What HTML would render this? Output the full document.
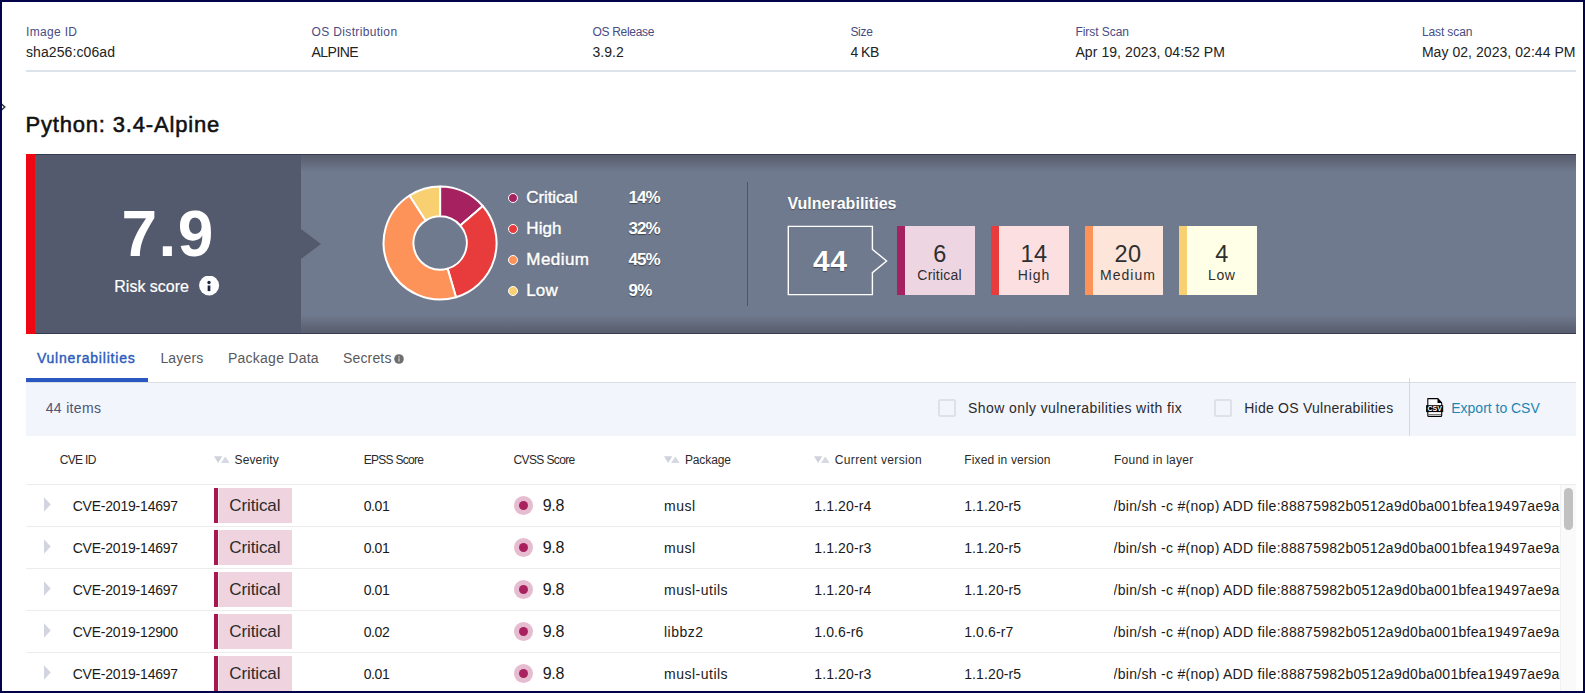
<!DOCTYPE html>
<html lang="en"><head><meta charset="utf-8"><title>Python: 3.4-Alpine</title>
<style>
html,body{margin:0;padding:0;background:#fff;}
body{width:1585px;height:693px;overflow:hidden;position:relative;font-family:"Liberation Sans",sans-serif;}
.t{position:absolute;white-space:pre;line-height:1;display:block;}
.r{position:absolute;display:block;}
</style></head><body>
<span class="t" style="left:26px;top:25.84px;font-size:12px;color:#494c82;letter-spacing:0.33px;">Image ID</span>
<span class="t" style="left:26px;top:45.15px;font-size:14px;color:#222;letter-spacing:0.09px;">sha256:c06ad</span>
<span class="t" style="left:311.6px;top:25.84px;font-size:12px;color:#494c82;letter-spacing:0.34px;">OS Distribution</span>
<span class="t" style="left:311.6px;top:45.15px;font-size:14px;color:#222;letter-spacing:-0.56px;">ALPINE</span>
<span class="t" style="left:592.4px;top:25.84px;font-size:12px;color:#494c82;letter-spacing:-0.3px;">OS Release</span>
<span class="t" style="left:592.4px;top:45.15px;font-size:14px;color:#222;letter-spacing:0.04px;">3.9.2</span>
<span class="t" style="left:850.4px;top:25.84px;font-size:12px;color:#494c82;letter-spacing:-0.28px;">Size</span>
<span class="t" style="left:850.4px;top:45.15px;font-size:14px;color:#222;letter-spacing:-0.5px;">4 KB</span>
<span class="t" style="left:1075.4px;top:25.84px;font-size:12px;color:#494c82;letter-spacing:-0.05px;">First Scan</span>
<span class="t" style="left:1075.4px;top:45.15px;font-size:14px;color:#222;letter-spacing:0.08px;">Apr 19, 2023, 04:52 PM</span>
<span class="t" style="left:1421.9px;top:25.84px;font-size:12px;color:#494c82;letter-spacing:-0.11px;">Last scan</span>
<span class="t" style="left:1421.9px;top:45.15px;font-size:14px;color:#222;letter-spacing:0.05px;">May 02, 2023, 02:44 PM</span>
<div class="r" style="left:26px;top:70px;width:1550px;height:2px;background:#dde3ea;"></div>
<svg class="r" style="left:0;top:101px" width="8" height="12" viewBox="0 0 8 12"><path d="M1 2.5 L4.8 6 L1 9.5" fill="none" stroke="#22303f" stroke-width="1.4"/></svg>
<span class="t" style="left:25.4px;top:114.08px;font-size:22px;color:#111;letter-spacing:0.83px;-webkit-text-stroke:0.55px #111;">Python: 3.4-Alpine</span>
<div class="r" style="left:26px;top:154px;width:1550px;height:180px;background:#707a8e;background:linear-gradient(to bottom,#343a4f 0,#343a4f 1px,#595f70 1px,#5b6172 4px,#707a8e 18px,#707a8e 161px,#5b6172 176px,#595f70 179px,#343a4f 179px,#343a4f 180px);"></div>
<div class="r" style="left:35px;top:154px;width:266px;height:180px;background:#545a6e;border-top:1px solid #343a4f;border-bottom:1px solid #343a4f;box-sizing:border-box;"></div>
<div class="r" style="left:26px;top:154px;width:9px;height:180px;background:#ee0612;"></div>
<svg class="r" style="left:301px;top:228px" width="21" height="32" viewBox="0 0 21 32"><path d="M0 1 L20 16 L0 31 Z" fill="#545a6e"/></svg>
<span class="t" style="left:68.15px;width:200px;text-align:center;top:202.12px;font-size:64px;color:#fff;font-weight:700;letter-spacing:1.5px;">7.9</span>
<span class="t" style="left:114.3px;top:279.46px;font-size:16px;color:#fff;-webkit-text-stroke:0.2px #fff;">Risk score</span>
<svg class="r" style="left:199px;top:276px" width="21" height="20" viewBox="0 0 21 20"><circle cx="10.1" cy="9.5" r="10" fill="#fff"/><circle cx="10" cy="6.5" r="1.65" fill="#1f2540"/><rect x="8.65" y="9.5" width="2.7" height="5.6" fill="#1f2540"/></svg>
<svg class="r" style="left:0;top:0" width="700" height="340" viewBox="0 0 700 340"><path d="M440.10 186.50 A56.5 56.5 0 0 1 482.80 206.00 L460.28 225.52 A26.7 26.7 0 0 0 440.10 216.30 Z" fill="#a5215f" stroke="#fff" stroke-width="2" stroke-linejoin="round"/><path d="M482.80 206.00 A56.5 56.5 0 0 1 456.02 297.21 L447.62 268.62 A26.7 26.7 0 0 0 460.28 225.52 Z" fill="#e83b3c" stroke="#fff" stroke-width="2" stroke-linejoin="round"/><path d="M456.02 297.21 A56.5 56.5 0 0 1 409.55 195.47 L425.66 220.54 A26.7 26.7 0 0 0 447.62 268.62 Z" fill="#fd9359" stroke="#fff" stroke-width="2" stroke-linejoin="round"/><path d="M409.55 195.47 A56.5 56.5 0 0 1 440.10 186.50 L440.10 216.30 A26.7 26.7 0 0 0 425.66 220.54 Z" fill="#f9d071" stroke="#fff" stroke-width="2" stroke-linejoin="round"/></svg>
<div class="r" style="left:507.7px;top:192.5px;width:8px;height:8px;border-radius:50%;background:#a5215f;border:1.2px solid #fff"></div>
<span class="t" style="left:526.3px;top:188.81px;font-size:17px;color:#fff;letter-spacing:-0.12px;-webkit-text-stroke:0.45px #fff;text-shadow:0 1px 1px rgba(0,0,0,.4);">Critical</span>
<span class="t" style="left:628.5px;top:188.81px;font-size:17px;color:#fff;font-weight:700;letter-spacing:-0.9700000000000001px;text-shadow:0 1px 1px rgba(0,0,0,.45);">14%</span>
<div class="r" style="left:507.7px;top:223.5px;width:8px;height:8px;border-radius:50%;background:#e83b3c;border:1.2px solid #fff"></div>
<span class="t" style="left:526.3px;top:219.81px;font-size:17px;color:#fff;letter-spacing:0.1px;-webkit-text-stroke:0.45px #fff;text-shadow:0 1px 1px rgba(0,0,0,.4);">High</span>
<span class="t" style="left:628.5px;top:219.81px;font-size:17px;color:#fff;font-weight:700;letter-spacing:-0.9700000000000001px;text-shadow:0 1px 1px rgba(0,0,0,.45);">32%</span>
<div class="r" style="left:507.7px;top:254.5px;width:8px;height:8px;border-radius:50%;background:#fd9359;border:1.2px solid #fff"></div>
<span class="t" style="left:526.3px;top:250.81px;font-size:17px;color:#fff;letter-spacing:0.44999999999999996px;-webkit-text-stroke:0.45px #fff;text-shadow:0 1px 1px rgba(0,0,0,.4);">Medium</span>
<span class="t" style="left:628.5px;top:250.81px;font-size:17px;color:#fff;font-weight:700;letter-spacing:-0.9700000000000001px;text-shadow:0 1px 1px rgba(0,0,0,.45);">45%</span>
<div class="r" style="left:507.7px;top:285.5px;width:8px;height:8px;border-radius:50%;background:#f9d071;border:1.2px solid #fff"></div>
<span class="t" style="left:526.3px;top:281.81px;font-size:17px;color:#fff;letter-spacing:0.1px;-webkit-text-stroke:0.45px #fff;text-shadow:0 1px 1px rgba(0,0,0,.4);">Low</span>
<span class="t" style="left:628.5px;top:281.81px;font-size:17px;color:#fff;font-weight:700;letter-spacing:-0.65px;text-shadow:0 1px 1px rgba(0,0,0,.45);">9%</span>
<div class="r" style="left:747px;top:182px;width:1px;height:124px;background:#4e5569;"></div>
<span class="t" style="left:787.4px;top:196.16px;font-size:16px;color:#fff;font-weight:700;letter-spacing:0.02px;text-shadow:0 1px 1px rgba(0,0,0,.35);">Vulnerabilities</span>
<svg class="r" style="left:786px;top:224px" width="104" height="74" viewBox="786 224 104 74"><path d="M788.3 226.4 H872.4 V249.3 L886.6 261 L872.4 272.7 V294.6 H788.3 Z" fill="none" stroke="#fff" stroke-width="1.4"/></svg>
<span class="t" style="left:730.31px;width:200px;text-align:center;top:246.41px;font-size:30px;color:#fff;font-weight:700;letter-spacing:0.62px;text-shadow:0 1px 1px rgba(0,0,0,.4);">44</span>
<div class="r" style="left:897px;top:226px;width:78.4px;height:69px;background:#eed5e2;"></div>
<div class="r" style="left:897px;top:226px;width:8px;height:69px;background:#a5215f;"></div>
<span class="t" style="left:839.90px;width:200px;text-align:center;top:243.11px;font-size:23.5px;color:#2f2f2f;letter-spacing:0.4px;">6</span>
<span class="t" style="left:839.61px;width:200px;text-align:center;top:268.15px;font-size:14px;color:#2f2f2f;letter-spacing:0.22px;">Critical</span>
<div class="r" style="left:991px;top:226px;width:78.4px;height:69px;background:#fcdfe0;"></div>
<div class="r" style="left:991px;top:226px;width:8px;height:69px;background:#e83b3c;"></div>
<span class="t" style="left:933.90px;width:200px;text-align:center;top:243.11px;font-size:23.5px;color:#2f2f2f;letter-spacing:0.4px;">14</span>
<span class="t" style="left:933.93px;width:200px;text-align:center;top:268.15px;font-size:14px;color:#2f2f2f;letter-spacing:0.87px;">High</span>
<div class="r" style="left:1085px;top:226px;width:78.4px;height:69px;background:#fee5da;"></div>
<div class="r" style="left:1085px;top:226px;width:8px;height:69px;background:#fd9359;"></div>
<span class="t" style="left:1027.90px;width:200px;text-align:center;top:243.11px;font-size:23.5px;color:#2f2f2f;letter-spacing:0.4px;">20</span>
<span class="t" style="left:1028.00px;width:200px;text-align:center;top:268.15px;font-size:14px;color:#2f2f2f;letter-spacing:1.0px;">Medium</span>
<div class="r" style="left:1179px;top:226px;width:78.4px;height:69px;background:#ffffe8;"></div>
<div class="r" style="left:1179px;top:226px;width:8px;height:69px;background:#f9d071;"></div>
<span class="t" style="left:1121.90px;width:200px;text-align:center;top:243.11px;font-size:23.5px;color:#2f2f2f;letter-spacing:0.4px;">4</span>
<span class="t" style="left:1121.80px;width:200px;text-align:center;top:268.15px;font-size:14px;color:#2f2f2f;letter-spacing:0.6px;">Low</span>
<span class="t" style="left:36.9px;top:350.95px;font-size:14px;color:#2b5bbd;letter-spacing:0.8px;-webkit-text-stroke:0.4px #2b5bbd;">Vulnerabilities</span>
<span class="t" style="left:160.4px;top:350.95px;font-size:14px;color:#59595d;letter-spacing:0.19px;">Layers</span>
<span class="t" style="left:228px;top:350.95px;font-size:14px;color:#59595d;letter-spacing:0.24px;">Package Data</span>
<span class="t" style="left:343.0px;top:350.95px;font-size:14px;color:#59595d;letter-spacing:0.16px;">Secrets</span>
<svg class="r" style="left:394px;top:354px" width="10" height="10" viewBox="0 0 10 10"><circle cx="5" cy="5" r="4.8" fill="#6e6e6e"/><circle cx="5" cy="2.9" r=".8" fill="#c4c4c4"/><rect x="4.3" y="4.3" width="1.4" height="3.3" fill="#c4c4c4"/></svg>
<div class="r" style="left:26px;top:382px;width:1550px;height:1px;background:#d9dde4;"></div>
<div class="r" style="left:26px;top:378px;width:122px;height:4px;background:#2a57c0;"></div>
<div class="r" style="left:26px;top:383px;width:1550px;height:53px;background:#f3f5fd;"></div>
<span class="t" style="left:45.7px;top:401.15px;font-size:14px;color:#4f5472;letter-spacing:0.34px;">44 items</span>
<div class="r" style="left:938px;top:399px;width:18px;height:18px;box-sizing:border-box;border:2px solid #dce2e6;border-radius:2.5px;background:#f3f5fd"></div>
<div class="r" style="left:1214px;top:399px;width:18px;height:18px;box-sizing:border-box;border:2px solid #dce2e6;border-radius:2.5px;background:#f3f5fd"></div>
<span class="t" style="left:968px;top:401.15px;font-size:14px;color:#2a2a2a;letter-spacing:0.42px;">Show only vulnerabilities with fix</span>
<span class="t" style="left:1244.2px;top:401.15px;font-size:14px;color:#2a2a2a;letter-spacing:0.25px;">Hide OS Vulnerabilities</span>
<div class="r" style="left:1409px;top:378px;width:1px;height:58px;background:#d5d8dc;"></div>
<svg class="r" style="left:1425px;top:397px" width="20" height="21" viewBox="0 0 20 21"><path d="M2.8 1.6 H12.9 L16.7 5.8 V18.4 Q16.7 19.4 15.7 19.4 H3.8 Q2.8 19.4 2.8 18.4 Z" fill="#fff" stroke="#000" stroke-width="1.1" stroke-linejoin="round"/><path d="M12.5 1.3 V6.1 H17 Z" fill="#000"/><rect x="1.1" y="8.2" width="17.1" height="6.9" fill="#000"/><rect x="3.4" y="17.1" width="12.7" height=".8" fill="#555"/><text x="2.6" y="14.1" font-family="Liberation Sans, sans-serif" font-size="6.8" font-weight="700" fill="#fff" textLength="14.3" lengthAdjust="spacingAndGlyphs">CSV</text></svg>
<span class="t" style="left:1451.3px;top:401.15px;font-size:14px;color:#1c86b1;letter-spacing:-0.02px;">Export to CSV</span>
<span class="t" style="left:59.7px;top:453.84px;font-size:12px;color:#2a2a2a;letter-spacing:-0.68px;">CVE ID</span>
<svg class="r" style="left:214.3px;top:456px" width="17" height="8" viewBox="0 0 17 8"><path d="M0 0.3 H8.3 L4.15 6.9 Z" fill="#cfd2dd"/><path d="M7 6.9 L11.3 0.5 L15.6 6.9 Z" fill="#d6d8e2"/></svg>
<span class="t" style="left:234.6px;top:453.84px;font-size:12px;color:#2a2a2a;letter-spacing:0.11px;">Severity</span>
<span class="t" style="left:363.7px;top:453.84px;font-size:12px;color:#2a2a2a;letter-spacing:-0.71px;">EPSS Score</span>
<span class="t" style="left:513.6px;top:453.84px;font-size:12px;color:#2a2a2a;letter-spacing:-0.64px;">CVSS Score</span>
<svg class="r" style="left:664.3px;top:456px" width="17" height="8" viewBox="0 0 17 8"><path d="M0 0.3 H8.3 L4.15 6.9 Z" fill="#cfd2dd"/><path d="M7 6.9 L11.3 0.5 L15.6 6.9 Z" fill="#d6d8e2"/></svg>
<span class="t" style="left:684.9px;top:453.84px;font-size:12px;color:#2a2a2a;letter-spacing:-0.1px;">Package</span>
<svg class="r" style="left:814.3px;top:456px" width="17" height="8" viewBox="0 0 17 8"><path d="M0 0.3 H8.3 L4.15 6.9 Z" fill="#cfd2dd"/><path d="M7 6.9 L11.3 0.5 L15.6 6.9 Z" fill="#d6d8e2"/></svg>
<span class="t" style="left:834.8px;top:453.84px;font-size:12px;color:#2a2a2a;letter-spacing:0.35px;">Current version</span>
<span class="t" style="left:964.2px;top:453.84px;font-size:12px;color:#2a2a2a;letter-spacing:0.15px;">Fixed in version</span>
<span class="t" style="left:1114px;top:453.84px;font-size:12px;color:#2a2a2a;letter-spacing:0.24px;">Found in layer</span>
<div class="r" style="left:26px;top:484px;width:1550px;height:1px;background:#ececec;"></div>
<svg class="r" style="left:43px;top:497.4px" width="9" height="15" viewBox="0 0 9 15"><path d="M1 0.3 L7.7 7.5 L1 14.7 Z" fill="#d2d4df"/></svg>
<span class="t" style="left:72.7px;top:498.95px;font-size:14px;color:#1a1a1a;letter-spacing:-0.21px;">CVE-2019-14697</span>
<div class="r" style="left:214px;top:488px;width:78px;height:35px;background:#efd4e0;"></div>
<div class="r" style="left:214px;top:488px;width:4px;height:35px;background:#a8174f;"></div>
<div class="r" style="left:218px;top:488px;width:1px;height:35px;background:#faeef3;"></div>
<span class="t" style="left:229.3px;top:496.71px;font-size:17px;color:#2b2b2b;letter-spacing:-0.12px;">Critical</span>
<span class="t" style="left:363.7px;top:498.95px;font-size:14px;color:#1a1a1a;letter-spacing:-0.38px;">0.01</span>
<div class="r" style="left:514.2px;top:495.9px;width:18.8px;height:18.8px;border-radius:50%;background:#e6bdd0"></div>
<div class="r" style="left:519.1px;top:500.8px;width:9px;height:9px;border-radius:50%;background:#a9215e"></div>
<span class="t" style="left:542.7px;top:497.66px;font-size:16px;color:#1a1a1a;letter-spacing:-0.28px;">9.8</span>
<span class="t" style="left:664px;top:498.95px;font-size:14px;color:#1a1a1a;letter-spacing:0.5px;">musl</span>
<span class="t" style="left:814.3px;top:498.95px;font-size:14px;color:#1a1a1a;letter-spacing:0.11px;">1.1.20-r4</span>
<span class="t" style="left:964.2px;top:498.95px;font-size:14px;color:#1a1a1a;letter-spacing:0.11px;">1.1.20-r5</span>
<span class="t" style="left:1113.5px;top:498.95px;font-size:14px;color:#1a1a1a;letter-spacing:0.29px;width:446.5px;overflow:hidden;">/bin/sh -c #(nop) ADD file:88875982b0512a9d0ba001bfea19497ae9a53c1f0d6ba2f0d8a4a1d5 in /</span>
<div class="r" style="left:26px;top:526px;width:1534px;height:1px;background:#ececec;"></div>
<svg class="r" style="left:43px;top:539.4px" width="9" height="15" viewBox="0 0 9 15"><path d="M1 0.3 L7.7 7.5 L1 14.7 Z" fill="#d2d4df"/></svg>
<span class="t" style="left:72.7px;top:540.95px;font-size:14px;color:#1a1a1a;letter-spacing:-0.21px;">CVE-2019-14697</span>
<div class="r" style="left:214px;top:530px;width:78px;height:35px;background:#efd4e0;"></div>
<div class="r" style="left:214px;top:530px;width:4px;height:35px;background:#a8174f;"></div>
<div class="r" style="left:218px;top:530px;width:1px;height:35px;background:#faeef3;"></div>
<span class="t" style="left:229.3px;top:538.71px;font-size:17px;color:#2b2b2b;letter-spacing:-0.12px;">Critical</span>
<span class="t" style="left:363.7px;top:540.95px;font-size:14px;color:#1a1a1a;letter-spacing:-0.38px;">0.01</span>
<div class="r" style="left:514.2px;top:537.9px;width:18.8px;height:18.8px;border-radius:50%;background:#e6bdd0"></div>
<div class="r" style="left:519.1px;top:542.8px;width:9px;height:9px;border-radius:50%;background:#a9215e"></div>
<span class="t" style="left:542.7px;top:539.66px;font-size:16px;color:#1a1a1a;letter-spacing:-0.28px;">9.8</span>
<span class="t" style="left:664px;top:540.95px;font-size:14px;color:#1a1a1a;letter-spacing:0.5px;">musl</span>
<span class="t" style="left:814.3px;top:540.95px;font-size:14px;color:#1a1a1a;letter-spacing:0.11px;">1.1.20-r3</span>
<span class="t" style="left:964.2px;top:540.95px;font-size:14px;color:#1a1a1a;letter-spacing:0.11px;">1.1.20-r5</span>
<span class="t" style="left:1113.5px;top:540.95px;font-size:14px;color:#1a1a1a;letter-spacing:0.29px;width:446.5px;overflow:hidden;">/bin/sh -c #(nop) ADD file:88875982b0512a9d0ba001bfea19497ae9a53c1f0d6ba2f0d8a4a1d5 in /</span>
<div class="r" style="left:26px;top:568px;width:1534px;height:1px;background:#ececec;"></div>
<svg class="r" style="left:43px;top:581.4px" width="9" height="15" viewBox="0 0 9 15"><path d="M1 0.3 L7.7 7.5 L1 14.7 Z" fill="#d2d4df"/></svg>
<span class="t" style="left:72.7px;top:582.95px;font-size:14px;color:#1a1a1a;letter-spacing:-0.21px;">CVE-2019-14697</span>
<div class="r" style="left:214px;top:572px;width:78px;height:35px;background:#efd4e0;"></div>
<div class="r" style="left:214px;top:572px;width:4px;height:35px;background:#a8174f;"></div>
<div class="r" style="left:218px;top:572px;width:1px;height:35px;background:#faeef3;"></div>
<span class="t" style="left:229.3px;top:580.71px;font-size:17px;color:#2b2b2b;letter-spacing:-0.12px;">Critical</span>
<span class="t" style="left:363.7px;top:582.95px;font-size:14px;color:#1a1a1a;letter-spacing:-0.38px;">0.01</span>
<div class="r" style="left:514.2px;top:579.9px;width:18.8px;height:18.8px;border-radius:50%;background:#e6bdd0"></div>
<div class="r" style="left:519.1px;top:584.8px;width:9px;height:9px;border-radius:50%;background:#a9215e"></div>
<span class="t" style="left:542.7px;top:581.66px;font-size:16px;color:#1a1a1a;letter-spacing:-0.28px;">9.8</span>
<span class="t" style="left:664px;top:582.95px;font-size:14px;color:#1a1a1a;letter-spacing:0.5px;">musl-utils</span>
<span class="t" style="left:814.3px;top:582.95px;font-size:14px;color:#1a1a1a;letter-spacing:0.11px;">1.1.20-r4</span>
<span class="t" style="left:964.2px;top:582.95px;font-size:14px;color:#1a1a1a;letter-spacing:0.11px;">1.1.20-r5</span>
<span class="t" style="left:1113.5px;top:582.95px;font-size:14px;color:#1a1a1a;letter-spacing:0.29px;width:446.5px;overflow:hidden;">/bin/sh -c #(nop) ADD file:88875982b0512a9d0ba001bfea19497ae9a53c1f0d6ba2f0d8a4a1d5 in /</span>
<div class="r" style="left:26px;top:610px;width:1534px;height:1px;background:#ececec;"></div>
<svg class="r" style="left:43px;top:623.4px" width="9" height="15" viewBox="0 0 9 15"><path d="M1 0.3 L7.7 7.5 L1 14.7 Z" fill="#d2d4df"/></svg>
<span class="t" style="left:72.7px;top:624.95px;font-size:14px;color:#1a1a1a;letter-spacing:-0.21px;">CVE-2019-12900</span>
<div class="r" style="left:214px;top:614px;width:78px;height:35px;background:#efd4e0;"></div>
<div class="r" style="left:214px;top:614px;width:4px;height:35px;background:#a8174f;"></div>
<div class="r" style="left:218px;top:614px;width:1px;height:35px;background:#faeef3;"></div>
<span class="t" style="left:229.3px;top:622.71px;font-size:17px;color:#2b2b2b;letter-spacing:-0.12px;">Critical</span>
<span class="t" style="left:363.7px;top:624.95px;font-size:14px;color:#1a1a1a;letter-spacing:-0.38px;">0.02</span>
<div class="r" style="left:514.2px;top:621.9px;width:18.8px;height:18.8px;border-radius:50%;background:#e6bdd0"></div>
<div class="r" style="left:519.1px;top:626.8px;width:9px;height:9px;border-radius:50%;background:#a9215e"></div>
<span class="t" style="left:542.7px;top:623.66px;font-size:16px;color:#1a1a1a;letter-spacing:-0.28px;">9.8</span>
<span class="t" style="left:664px;top:624.95px;font-size:14px;color:#1a1a1a;letter-spacing:0.5px;">libbz2</span>
<span class="t" style="left:814.3px;top:624.95px;font-size:14px;color:#1a1a1a;letter-spacing:0.11px;">1.0.6-r6</span>
<span class="t" style="left:964.2px;top:624.95px;font-size:14px;color:#1a1a1a;letter-spacing:0.11px;">1.0.6-r7</span>
<span class="t" style="left:1113.5px;top:624.95px;font-size:14px;color:#1a1a1a;letter-spacing:0.29px;width:446.5px;overflow:hidden;">/bin/sh -c #(nop) ADD file:88875982b0512a9d0ba001bfea19497ae9a53c1f0d6ba2f0d8a4a1d5 in /</span>
<div class="r" style="left:26px;top:652px;width:1534px;height:1px;background:#ececec;"></div>
<svg class="r" style="left:43px;top:665.4px" width="9" height="15" viewBox="0 0 9 15"><path d="M1 0.3 L7.7 7.5 L1 14.7 Z" fill="#d2d4df"/></svg>
<span class="t" style="left:72.7px;top:666.95px;font-size:14px;color:#1a1a1a;letter-spacing:-0.21px;">CVE-2019-14697</span>
<div class="r" style="left:214px;top:656px;width:78px;height:35px;background:#efd4e0;"></div>
<div class="r" style="left:214px;top:656px;width:4px;height:35px;background:#a8174f;"></div>
<div class="r" style="left:218px;top:656px;width:1px;height:35px;background:#faeef3;"></div>
<span class="t" style="left:229.3px;top:664.71px;font-size:17px;color:#2b2b2b;letter-spacing:-0.12px;">Critical</span>
<span class="t" style="left:363.7px;top:666.95px;font-size:14px;color:#1a1a1a;letter-spacing:-0.38px;">0.01</span>
<div class="r" style="left:514.2px;top:663.9px;width:18.8px;height:18.8px;border-radius:50%;background:#e6bdd0"></div>
<div class="r" style="left:519.1px;top:668.8px;width:9px;height:9px;border-radius:50%;background:#a9215e"></div>
<span class="t" style="left:542.7px;top:665.66px;font-size:16px;color:#1a1a1a;letter-spacing:-0.28px;">9.8</span>
<span class="t" style="left:664px;top:666.95px;font-size:14px;color:#1a1a1a;letter-spacing:0.5px;">musl-utils</span>
<span class="t" style="left:814.3px;top:666.95px;font-size:14px;color:#1a1a1a;letter-spacing:0.11px;">1.1.20-r3</span>
<span class="t" style="left:964.2px;top:666.95px;font-size:14px;color:#1a1a1a;letter-spacing:0.11px;">1.1.20-r5</span>
<span class="t" style="left:1113.5px;top:666.95px;font-size:14px;color:#1a1a1a;letter-spacing:0.29px;width:446.5px;overflow:hidden;">/bin/sh -c #(nop) ADD file:88875982b0512a9d0ba001bfea19497ae9a53c1f0d6ba2f0d8a4a1d5 in /</span>
<div class="r" style="left:1560px;top:485px;width:16px;height:210px;background:#fafafa;border-left:1px solid #f0f0f0;box-sizing:border-box;"></div>
<div class="r" style="left:1564px;top:487.6px;width:9px;height:42.6px;background:#c1c1c1;border-radius:4.5px;"></div>
<div class="r" style="left:0px;top:0px;width:1585px;height:2px;background:#03034a;"></div>
<div class="r" style="left:0px;top:691px;width:1585px;height:2px;background:#03034a;"></div>
<div class="r" style="left:0px;top:0px;width:2px;height:693px;background:#03034a;"></div>
<div class="r" style="left:1583px;top:0px;width:2px;height:693px;background:#03034a;"></div>
</body></html>
